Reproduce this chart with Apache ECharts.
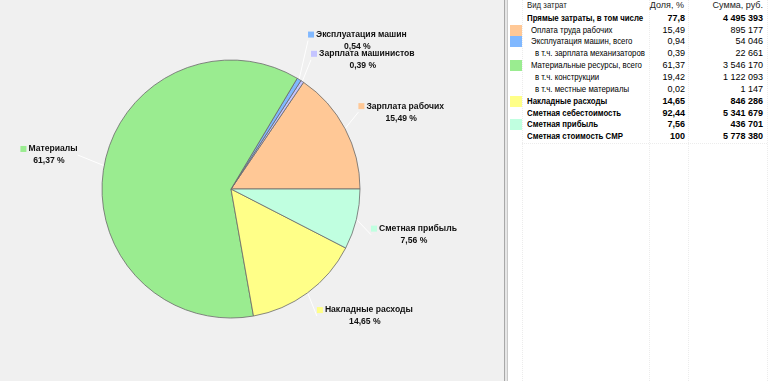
<!DOCTYPE html>
<html><head><meta charset="utf-8">
<script src="https://cdn.jsdelivr.net/npm/echarts@6/dist/echarts.min.js"></script>
<style>
html,body{margin:0;padding:0;width:768px;height:381px;overflow:hidden;background:#f0f0f0;font-family:"Liberation Sans",Arial,sans-serif;}
#chart{position:absolute;left:0;top:0;width:504px;height:381px;}
#split1{position:absolute;left:504px;top:0;width:1px;height:381px;background:#a8a8a8;}
#split2{position:absolute;left:505px;top:0;width:2px;height:381px;background:#e6e6e6;}
#split3{position:absolute;left:507px;top:0;width:1px;height:381px;background:#c8c8c8;}
#panel{position:absolute;left:508px;top:0;width:260px;height:381px;background:#fff;overflow:hidden;}
.c{position:absolute;white-space:nowrap;font-size:9px;color:#000;line-height:11px;height:11px;}
.vl{position:absolute;top:0;width:0;height:381px;border-left:1px dotted #ececec;}
.sw{position:absolute;width:12px;height:11px;}
</style>
</head><body>
<div id="chart"></div>
<div id="split1"></div><div id="split2"></div><div id="split3"></div>
<div id="panel"></div>
<script>
// ---- pie data ----
const sliceNames = ["Зарплата рабочих","Зарплата машинистов","Эксплуатация машин","Материалы","Накладные расходы","Сметная прибыль"];
const sliceValues = [15.49, 0.39, 0.54, 61.37, 14.65, 7.56];
const sliceColors = ["#ffc896","#c4c4ff","#80b8ff","#9aec90","#ffff88","#c0ffe0"];

// ---- table data ----
const rowNames = ["Прямые затраты, в том числе","Оплата труда рабочих","Эксплуатация машин, всего","в т.ч. зарплата механизаторов","Материальные ресурсы, всего","в т.ч. конструкции","в т.ч. местные материалы","Накладные расходы","Сметная себестоимость","Сметная прибыль","Сметная стоимость СМР"];
const rowShares = ["77,8","15,49","0,94","0,39","61,37","19,42","0,02","14,65","92,44","7,56","100"];
const rowSums = ["4 495 393","895 177","54 046","22 661","3 546 170","1 122 093","1 147","846 286","5 341 679","436 701","5 778 380"];
const rowLevels = [0,1,1,2,1,2,2,0,0,0,0];
const rowBold = [true,false,false,false,false,false,false,true,true,true,true];
const rowSwatch = [null,"#ffc896","#80b8ff",null,"#9aec90",null,null,"#ffff88",null,"#c0ffe0",null];
const headers = ["Вид затрат","Доля, %","Сумма, руб."];

function fmt(v){ return v.toFixed(2).replace('.', ','); }
function hasFont(f){
  const c=document.createElement('canvas').getContext('2d');
  const s='abcЖЖwwmmiiШЩ';
  c.font='20px monospace'; const w1=c.measureText(s).width;
  c.font='20px "'+f+'", monospace'; return Math.abs(c.measureText(s).width-w1)>0.5;
}
const narrow = hasFont('Liberation Sans Narrow');
const labelFont = narrow ? 'Liberation Sans Narrow' : 'Liberation Sans';
const labelSize = narrow ? 10.4 : 8.6;

// label-placement style tweaks (series config, not data)
const pushedLabel = 'Эксплуатация машин';

const chart = echarts.init(document.getElementById('chart'), null, {renderer:'canvas'});
chart.setOption({
  backgroundColor:'#f0f0f0',
  animation:false,
  series:[{
    type:'pie',
    center:[231,189],
    radius:129,
    startAngle:0,
    clockwise:false,
    avoidLabelOverlap:false,
    itemStyle:{borderColor:'#6a6a6a',borderWidth:0.8},
    labelLine:{show:true,length:14,length2:0,lineStyle:{color:'#ffffff',width:1}},
    label:{show:true,position:'outside',lineHeight:12,distanceToLabelLine:1},
    labelLayout: function(p){
      const pts = p.labelLinePoints;
      if(!pts) return {hideOverlap:false};
      const end = pts[pts.length-1];
      const above = end[1] < 189;
      const left = end[0] < 231;
      const out = {hideOverlap:false, y: above ? end[1] + (left ? 6 : 2) : end[1], verticalAlign: above ? 'bottom' : 'top'};
      if (sliceNames[p.dataIndex] === pushedLabel) out.x = p.labelRect.x - 10;
      return out;
    },
    data: sliceNames.map((n,i)=>({
      name:n, value:sliceValues[i],
      itemStyle:{color:sliceColors[i]},
      labelLine: n==='Материалы' ? {length:26} : (n===pushedLabel ? {length:34} : {}),
      label:{
        formatter:'{sq|}{n|'+n+'}\n{p|'+fmt(sliceValues[i])+' %}',
        rich:{
          sq:{width:6,height:6,backgroundColor:sliceColors[i]},
          n:{fontWeight:'bold',fontSize:labelSize,color:'#111',padding:[0,0,0,2],fontFamily:labelFont,lineHeight:12},
          p:{fontWeight:'bold',fontSize:labelSize,color:'#111',align:'center',fontFamily:labelFont,lineHeight:12}
        }
      }
    }))
  }]
});

// ---- table ----
const panel = document.getElementById('panel');
const X0 = 508;
function add(html, cls, style){ const d=document.createElement('div'); d.className=cls; d.innerHTML=html; Object.assign(d.style, style); panel.appendChild(d); return d; }
[522,649,688,767].forEach(x=>{ const d=document.createElement('div'); d.className='vl'; d.style.left=(x-X0)+'px'; panel.appendChild(d); });
const nameStyle = narrow ? {fontFamily:'"Liberation Sans Narrow"',fontSize:'10px'} : {transform:'scaleX(0.87)',transformOrigin:'0 50%'};
add(headers[0],'c',Object.assign({left:(527-X0)+'px',top:'0px',color:'#222'},nameStyle));
add(headers[1],'c',{right:(768-684)+'px',top:'0px',color:'#222'});
add(headers[2],'c',{right:(768-763)+'px',top:'0px',color:'#222'});
const rowH = 11.84, row0 = 18.3;
rowNames.forEach((n,i)=>{
  const cy = row0 + i*rowH;
  const top = (cy-5.5)+'px';
  const fw = rowBold[i]?'bold':'normal';
  if(rowSwatch[i]) add('','sw',{left:(510-X0)+'px',top:(cy-5.5)+'px',background:rowSwatch[i]});
  add(n,'c',Object.assign({left:(527+rowLevels[i]*4-X0)+'px',top:top,fontWeight:fw},nameStyle));
  add(rowShares[i],'c',{right:(768-685)+'px',top:top,fontWeight:fw});
  add(rowSums[i],'c',{right:(768-763)+'px',top:top,fontWeight:fw});
});
const hl=document.createElement('div'); hl.style.cssText='position:absolute;left:'+(522-X0)+'px;width:'+(767-522)+'px;top:'+(row0+10*rowH+6)+'px;height:0;border-top:1px dotted #ececec;'; panel.appendChild(hl);
</script>
</body></html>
